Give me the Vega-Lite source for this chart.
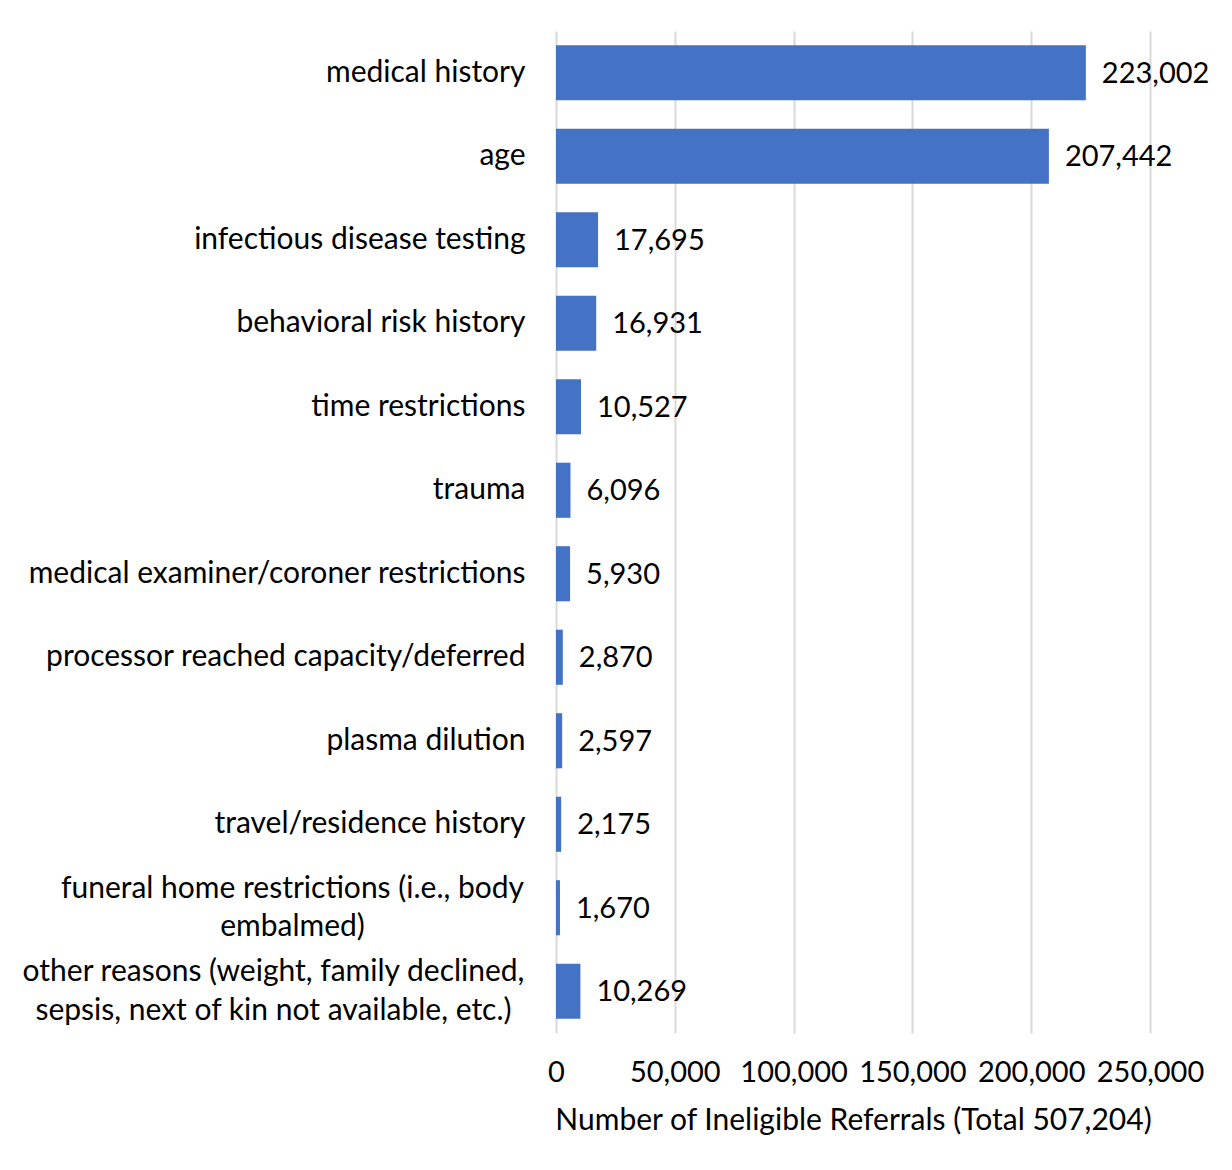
{
  "$schema": "https://vega.github.io/schema/vega-lite/v6.json",
  "autosize": {"type": "none"},
  "padding": {"left": 556, "top": 31, "right": 82, "bottom": 137},
  "width": 594,
  "height": 1002,
  "background": "white",
  "config": {
    "font": "Lato",
    "view": {"stroke": null},
    "axis": {"labelFont": "Lato", "titleFont": "Lato", "labelColor": "#000000", "titleColor": "#000000"}
  },
  "data": {
    "values": [
      {"reason": "medical history", "count": 223002},
      {"reason": "age", "count": 207442},
      {"reason": "infectious disease testing", "count": 17695},
      {"reason": "behavioral risk history", "count": 16931},
      {"reason": "time restrictions", "count": 10527},
      {"reason": "trauma", "count": 6096},
      {"reason": "medical examiner/coroner restrictions", "count": 5930},
      {"reason": "processor reached capacity/deferred", "count": 2870},
      {"reason": "plasma dilution", "count": 2597},
      {"reason": "travel/residence history", "count": 2175},
      {"reason": "funeral home restrictions (i.e., body embalmed)", "count": 1670},
      {"reason": "other reasons (weight, family declined, sepsis, next of kin not available, etc.)", "count": 10269}
    ]
  },
  "encoding": {
    "y": {
      "field": "reason",
      "type": "nominal",
      "sort": null,
      "scale": {"paddingInner": 0.34, "paddingOuter": 0.17},
      "axis": {
        "title": null,
        "domain": false,
        "ticks": false,
        "labelFontSize": 30,
        "labelLimit": 600,
        "labelLineHeight": 38.5,
        "labelExpr": "datum.value == 'funeral home restrictions (i.e., body embalmed)' ? ['funeral home restrictions (i.e., body', 'embalmed)'] : datum.value == 'other reasons (weight, family declined, sepsis, next of kin not available, etc.)' ? ['other reasons (weight, family declined,', 'sepsis, next of kin not available, etc.)'] : datum.value",
        "labelAlign": {"condition": {"test": "indexof(datum.value, '(') >= 0", "value": "center"}, "value": "right"},
        "labelOffset": {"condition": {"test": "indexof(datum.value, '(') >= 0", "value": -19}, "value": 0},
        "labelPadding": {
          "condition": [
            {"test": "indexof(datum.value, 'funeral') >= 0", "value": 264},
            {"test": "indexof(datum.value, 'other reasons') >= 0", "value": 283}
          ],
          "value": 31
        }
      }
    },
    "x": {
      "field": "count",
      "type": "quantitative",
      "scale": {"domain": [0, 250000], "nice": false},
      "axis": {
        "title": "Number of Ineligible Referrals (Total 507,204)",
        "titleFontSize": 30,
        "titleFontWeight": "normal",
        "titlePadding": 18,
        "values": [0, 50000, 100000, 150000, 200000, 250000],
        "format": ",.0f",
        "labelFontSize": 29,
        "labelPadding": 25,
        "labelFlush": false,
        "domain": false,
        "ticks": false,
        "grid": true,
        "gridColor": "#d9d9d9",
        "gridWidth": 2
      }
    }
  },
  "layer": [
    {"mark": {"type": "bar", "color": "#4472c4"}},
    {
      "mark": {"type": "text", "align": "left", "baseline": "middle", "dx": 16, "dy": 1, "fontSize": 29, "color": "#000000"},
      "encoding": {"text": {"field": "count", "type": "quantitative", "format": ","}}
    }
  ]
}
